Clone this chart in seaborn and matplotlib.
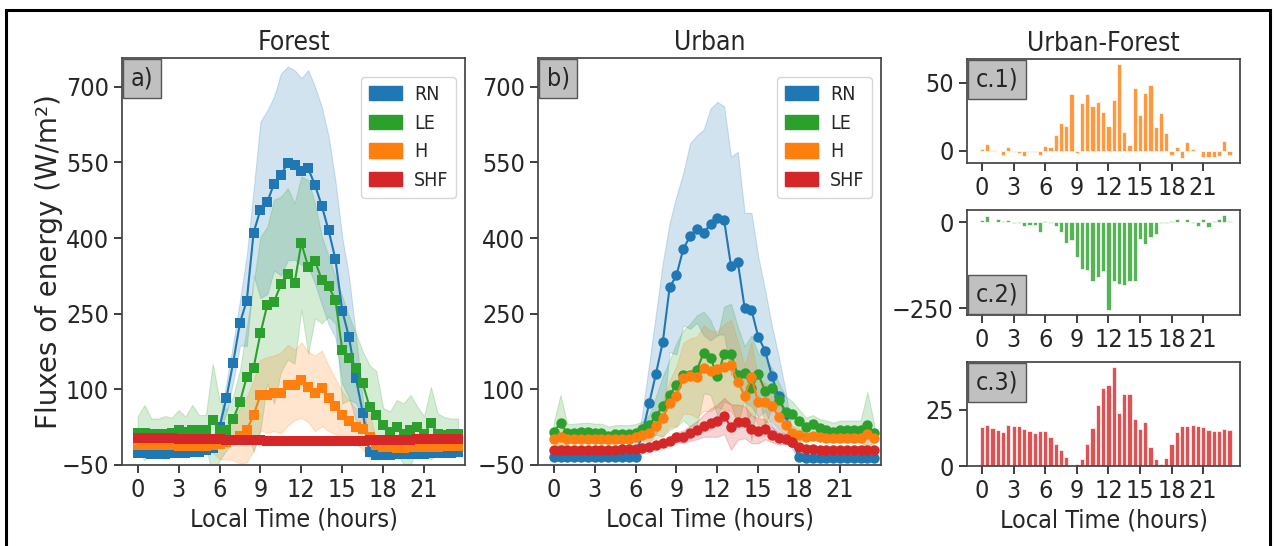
import numpy as np
import pandas as pd
import seaborn as sns
import matplotlib.pyplot as plt
from matplotlib.patches import Patch, Rectangle
from matplotlib.offsetbox import AnchoredText

# half-hourly local time
hours = np.arange(48) * 0.5
names = ["RN", "LE", "H", "SHF"]
colors = ["#1f77b4", "#2ca02c", "#ff7f0e", "#d62728"]

# ---- Forest means (W/m2)
forest_rn = [-27, -27, -28, -28, -28, -27, -27, -26, -25, -24, -20, -16,
             25, 82, 153, 232, 276, 411, 456, 471, 508, 526, 548, 545,
             532, 538, 505, 464, 415, 358, 256, 203, 122, 54, -25, -30,
             -30, -30, -29, -29, -29, -28, -28, -27, -27, -26, -26, -25]
forest_le = [14, 14, 12, 12, 12, 14, 19, 16, 20, 19, 19, 39,
             19, 19, 41, 75, 125, 143, 211, 267, 274, 308, 329, 310,
             390, 343, 355, 317, 304, 277, 178, 162, 142, 112, 65, 50,
             30, 16, 26, 12, 19, 26, 12, 33, 12, 10, 12, 12]
forest_h = [-10, -10, -10, -11, -11, -11, -12, -12, -12, -12, -12, -10,
            -8, -4, 0, 8, 20, 49, 89, 89, 92, 93, 108, 109,
            118, 105, 92, 102, 82, 66, 50, 38, 26, 22, 6, -10,
            -14, -15, -16, -16, -15, -15, -14, -14, -14, -13, -13, -12]
forest_shf = [3, 3, 3, 3, 3, 3, 2, 2, 2, 2, 1, 1,
              1, 0, 0, 0, -1, -1, -1, -2, -2, -2, -3, -3,
              -3, -3, -3, -3, -3, -3, -2, -2, -2, -2, -1, -1,
              -1, 0, 0, 0, 0, 1, 1, 1, 1, 2, 2, 2]

# ---- Forest spread (std, W/m2)
forest_rn_sd = [7, 7, 7, 7, 7, 7, 7, 7, 7, 7, 7, 8,
                9, 30, 38, 45, 90, 85, 175, 182, 172, 200, 192, 188,
                185, 195, 195, 196, 186, 155, 145, 120, 85, 30, 8, 7,
                7, 7, 7, 7, 7, 7, 7, 7, 7, 7, 7, 7]
forest_le_sd = [33, 55, 30, 30, 35, 30, 40, 30, 49, 30, 30, 112,
                60, 40, 45, 63, 99, 167, 192, 155, 202, 174, 170, 159,
                132, 172, 114, 86, 60, 46, 106, 83, 69, 63, 83, 86,
                33, 40, 53, 60, 70, 40, 35, 72, 40, 35, 30, 30]
forest_h_sd = [8, 8, 8, 8, 8, 8, 8, 8, 8, 8, 10, 15,
               30, 35, 40, 55, 65, 70, 70, 75, 75, 80, 80, 70,
               75, 70, 75, 75, 65, 55, 45, 40, 35, 40, 45, 12,
               8, 8, 8, 8, 8, 8, 8, 8, 8, 8, 8, 8]
forest_shf_sd = [5] * 48

# ---- Urban means (W/m2)
urban_rn = [-35, -35, -35, -35, -35, -35, -35, -35, -35, -35, -35, -35,
            -34, 13, 72, 131, 194, 302, 326, 378, 404, 418, 411, 427,
            439, 435, 345, 352, 262, 258, 204, 177, 126, 86, 52, -4,
            -35, -36, -36, -36, -36, -36, -36, -36, -36, -36, -36, -36]
urban_le = [16, 33, 13, 14, 15, 16, 14, 14, 8, 11, 11, 11,
            13, 21, 29, 48, 66, 89, 109, 128, 128, 138, 173, 163,
            126, 170, 170, 128, 133, 103, 130, 97, 102, 79, 56, 51,
            38, 26, 31, 23, 20, 16, 20, 20, 20, 20, 29, 13]
urban_h = [1, 6, 2, 2, 2, 2, 1, 1, 1, 1, 2, 2,
           6, 10, 13, 27, 43, 72, 87, 122, 126, 124, 142, 137,
           140, 144, 148, 115, 87, 124, 74, 74, 67, 46, 29, 13,
           10, 6, 8, 5, 4, 3, 3, 3, 3, 3, 12, 3]
urban_shf = [-20, -20, -20, -20, -20, -20, -20, -20, -20, -20, -19, -18,
             -18, -17, -14, -10, -6, -2, 5, 6, 13, 19, 28, 34,
             38, 47, 25, 35, 35, 21, 18, 21, 10, 3, 2, -5,
             -14, -19, -18, -20, -20, -20, -20, -20, -20, -20, -20, -20]

# ---- Urban spread (std, W/m2)
urban_rn_sd = [6, 6, 6, 6, 6, 6, 6, 6, 6, 6, 6, 6,
               8, 40, 79, 119, 157, 128, 157, 151, 184, 186, 204, 230,
               231, 226, 216, 219, 188, 192, 159, 120, 100, 79, 45, 15,
               6, 6, 6, 6, 6, 6, 6, 6, 6, 6, 6, 6]
urban_le_sd = [18, 56, 18, 18, 18, 18, 18, 18, 18, 18, 18, 18,
               18, 15, 20, 38, 60, 69, 83, 89, 102, 109, 81, 74,
               78, 94, 100, 96, 52, 104, 41, 67, 40, 35, 30, 25,
               22, 18, 18, 18, 18, 18, 18, 18, 18, 18, 66, 18]
urban_h_sd = [8, 20, 8, 8, 8, 8, 8, 8, 8, 8, 8, 8,
              10, 12, 15, 25, 35, 45, 60, 70, 75, 80, 85, 80,
              75, 85, 90, 80, 60, 70, 45, 40, 30, 25, 20, 15,
              12, 8, 8, 8, 8, 8, 8, 8, 8, 8, 25, 8]
urban_shf_sd = [5, 5, 5, 5, 5, 5, 5, 5, 5, 5, 5, 5,
                5, 5, 5, 5, 5, 8, 10, 12, 15, 18, 22, 28,
                32, 36, 45, 35, 32, 28, 25, 20, 15, 12, 10, 8,
                5, 5, 5, 5, 5, 5, 5, 5, 5, 5, 5, 5]

# ---- Urban minus Forest
diff_h = [1, 4.6, 0.7, 0, -3, 3, -1, -1.5, -4, -1, -1, -3.5,
          3.4, 2.4, 11.5, 20.5, 18, 42, -1.5, 35.4, 41.5, 33, 35.6, 28.8,
          18, 37.5, 64, 14, 4.1, 46, 26.6, 42.7, 48.3, 17.3, 27.6, 13,
          -3, 2.7, -5.6, 6.6, 1, 0, -4.4, -4.4, -4.4, -4, 7.3, -3]
diff_le = [7, 19, 1, 9, 4, 6, -3, -1, -10, -8, -8, -29,
           5, -1, -12, -27, -60, -52, -101, -135, -140, -170, -158, -143,
           -256, -172, -180, -183, -170, -170, -49, -63, -42, -33, -3, -1,
           4, 11, 0, 11, -2, -11, 11, -15, 3, 11, 22, 5]
diff_shf = [17.5, 18.3, 17, 16.2, 15, 18.1, 17.8, 17.8, 16.7, 15.8, 14.7, 15.8,
            15.6, 13.1, 10, 7.3, 4, 0.2, 1.1, 3.3, 9.8, 16.9, 27, 34.7,
            36.1, 44.2, 23.8, 32.2, 32.2, 20.8, 16.7, 19.8, 8.4, 3, 1.1, 3.4,
            9.8, 15.2, 17.7, 18, 18.3, 18, 17.2, 16.1, 15.8, 15.8, 16.6, 16.1]

tick_pos = [0, 3, 6, 9, 12, 15, 18, 21]
flux_ticks = [-50, 100, 250, 400, 550, 700]

sns.set_theme(style="ticks")
plt.rcParams["font.family"] = ["DejaVu Sans"]
plt.rcParams["font.stretch"] = "condensed"
plt.rcParams["xtick.labelsize"] = 18
plt.rcParams["ytick.labelsize"] = 18
plt.rcParams["axes.labelsize"] = 18
plt.rcParams["axes.titlesize"] = 19
plt.rcParams["axes.edgecolor"] = "#444444"

W, H = 1274, 546
fig = plt.figure(figsize=(W / 100, H / 100), dpi=100)


def box(l, t, r, b):
    return [l / W, (H - b) / H, (r - l) / W, (b - t) / H]


ax_a = fig.add_axes(box(122, 58, 465, 465))
ax_b = fig.add_axes(box(538, 58, 881, 465))
ax_c1 = fig.add_axes(box(967, 59, 1240, 163))
ax_c2 = fig.add_axes(box(967, 210, 1240, 315))
ax_c3 = fig.add_axes(box(967, 362, 1240, 466))


def tag(ax, letter, loc):
    at = AnchoredText(letter, loc=loc, prop=dict(size=18), pad=0.3,
                      borderpad=0.05, frameon=True)
    at.patch.set_boxstyle("square,pad=0")
    at.patch.set_facecolor("#c0c0c0")
    at.patch.set_edgecolor("#555555")
    ax.add_artist(at)


def flux_panel(ax, means, sds, marker, msize, title, letter):
    for name, col, m, s in zip(names, colors, means, sds):
        m = np.array(m, dtype=float)
        s = np.array(s, dtype=float)
        ax.fill_between(hours, m - s, m + s, color=col, alpha=0.2, lw=0.8)
        df = pd.DataFrame({"hour": hours, "flux": m})
        sns.lineplot(data=df, x="hour", y="flux", ax=ax, color=col,
                     marker=marker, markersize=msize, markeredgewidth=0,
                     linewidth=1.5, errorbar=None)
    ax.set_xlim(-1.15, 24.0)
    ax.set_ylim(-50, 757)
    ax.set_xticks(tick_pos)
    ax.set_yticks(flux_ticks)
    ax.set_xlabel("Local Time (hours)")
    ax.set_ylabel("")
    ax.set_title(title)
    tag(ax, letter, "upper left")
    handles = [Patch(color=c, label=n) for n, c in zip(names, colors)]
    ax.legend(handles=handles, loc="upper right", bbox_to_anchor=(0.974, 0.953),
              borderaxespad=0, fontsize=14, handlelength=1.7, handleheight=0.75,
              handletextpad=0.6, frameon=True, borderpad=0.4)


flux_panel(ax_a, [forest_rn, forest_le, forest_h, forest_shf],
           [forest_rn_sd, forest_le_sd, forest_h_sd, forest_shf_sd], "s", 7.5, "Forest", "a)")
flux_panel(ax_b, [urban_rn, urban_le, urban_h, urban_shf],
           [urban_rn_sd, urban_le_sd, urban_h_sd, urban_shf_sd], "o", 7.5, "Urban", "b)")
ax_a.set_ylabel("Fluxes of energy (W/m\u00b2)", fontsize=20, fontstretch="normal")
ax_a.yaxis.set_label_coords(-0.172, 0.5)


def diff_panel(ax, vals, col, letter, yticks, loc):
    sns.barplot(x=hours, y=vals, native_scale=True, color=col, saturation=1,
                alpha=0.8, edgecolor="white", linewidth=0.6, ax=ax)
    ax.set_xlim(-1.43, 24.5)
    ax.set_xticks(tick_pos)
    ax.set_xticklabels([str(t) for t in tick_pos])
    ax.set_yticks(yticks)
    tag(ax, letter, loc)


diff_panel(ax_c1, diff_h, colors[2], "c.1)", [0, 50], "upper left")
diff_panel(ax_c2, diff_le, colors[1], "c.2)", [0, -250], "lower left")
diff_panel(ax_c3, diff_shf, colors[3], "c.3)", [0, 25], "upper left")
ax_c1.set_title("Urban-Forest")
ax_c3.set_xlabel("Local Time (hours)")

# outer frame
fig.add_artist(Rectangle((6 / W, -0.05), (1270 - 6) / W, 1 - 10 / H + 0.05,
                         transform=fig.transFigure, fill=False, lw=2.2,
                         ec="black", clip_on=False))

fig.savefig("out.png", dpi=100)
